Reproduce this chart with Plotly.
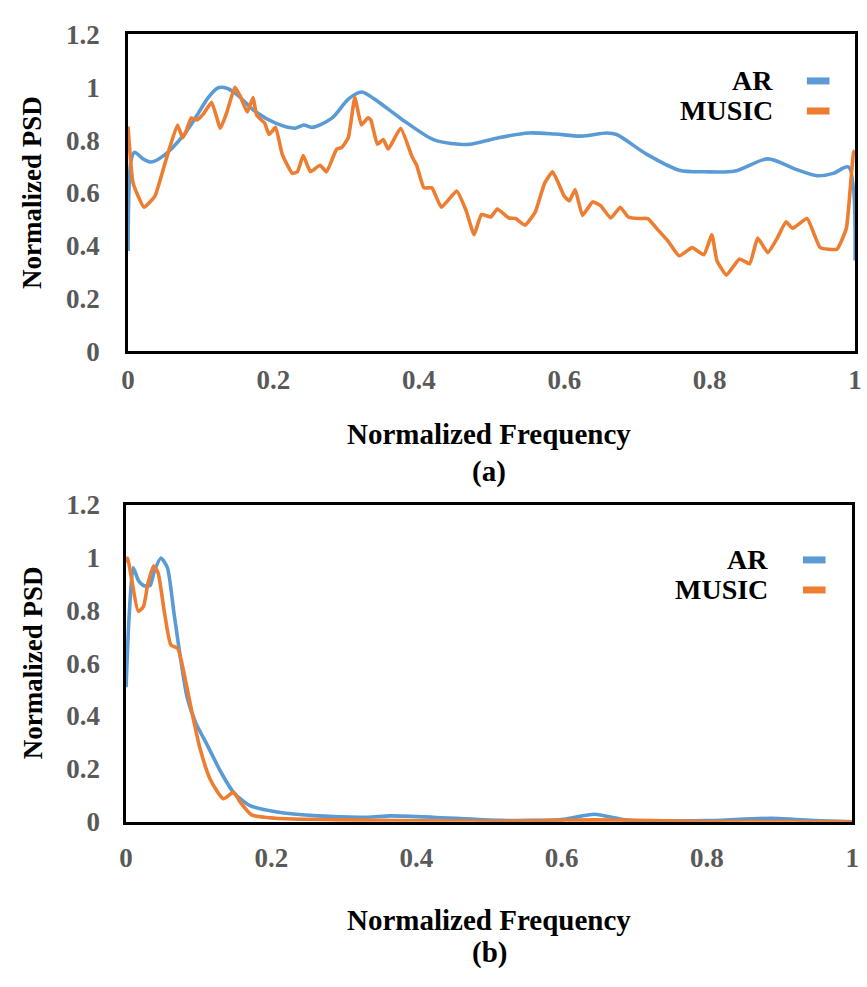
import plotly.graph_objects as go

# ---------------- data ----------------
tick_vals_x = [0, 0.2, 0.4, 0.6, 0.8, 1.0]
tick_text_x = ["0", "0.2", "0.4", "0.6", "0.8", "1"]
tick_vals_y = [0, 0.2, 0.4, 0.6, 0.8, 1.0, 1.2]
tick_text_y = ["0", "0.2", "0.4", "0.6", "0.8", "1", "1.2"]

# panel (a)
ar_a_x = [0, 0.004, 0.009, 0.02, 0.032, 0.049, 0.077, 0.095, 0.11, 0.124,
          0.137, 0.149, 0.176, 0.203, 0.23, 0.242, 0.253, 0.28, 0.303, 0.321,
          0.339, 0.375, 0.42, 0.456, 0.47, 0.51, 0.551, 0.587, 0.623, 0.659,
          0.672, 0.713, 0.758, 0.794, 0.835, 0.88, 0.916, 0.948, 0.97, 0.991,
          1.0]
ar_a_y = [0.38, 0.72, 0.754, 0.73, 0.717, 0.741, 0.821, 0.894, 0.96, 0.998,
          0.995, 0.974, 0.906, 0.864, 0.845, 0.857, 0.848, 0.882, 0.955, 0.982,
          0.955, 0.882, 0.802, 0.784, 0.784, 0.809, 0.827, 0.823, 0.815, 0.827,
          0.821, 0.747, 0.686, 0.68, 0.683, 0.729, 0.692, 0.665, 0.674, 0.698,
          0.344]

music_a_x = [0, 0.007, 0.022, 0.037, 0.052, 0.068, 0.075, 0.079, 0.087, 0.095,
             0.104, 0.115, 0.127, 0.136, 0.147, 0.154, 0.164, 0.172, 0.177, 0.188,
             0.194, 0.203, 0.212, 0.226, 0.233, 0.241, 0.251, 0.264, 0.273, 0.287,
             0.294, 0.303, 0.312, 0.321, 0.330, 0.334, 0.343, 0.351, 0.358, 0.375,
             0.391, 0.397, 0.407, 0.418, 0.431, 0.452, 0.465, 0.476, 0.486, 0.499,
             0.508, 0.524, 0.533, 0.546, 0.560, 0.573, 0.584, 0.600, 0.607, 0.615,
             0.625, 0.639, 0.650, 0.664, 0.677, 0.688, 0.702, 0.715, 0.727, 0.743,
             0.758, 0.776, 0.792, 0.803, 0.810, 0.823, 0.841, 0.855, 0.866, 0.880,
             0.893, 0.905, 0.914, 0.934, 0.952, 0.975, 0.988, 0.998, 1.0]
music_a_y = [0.851, 0.637, 0.546, 0.588, 0.723, 0.857, 0.809, 0.827, 0.884, 0.876,
             0.900, 0.943, 0.845, 0.906, 1.0, 0.968, 0.906, 0.961, 0.894, 0.864,
             0.821, 0.848, 0.747, 0.674, 0.680, 0.741, 0.680, 0.705, 0.680, 0.766,
             0.772, 0.809, 0.961, 0.857, 0.884, 0.876, 0.784, 0.802, 0.766, 0.845,
             0.735, 0.705, 0.619, 0.619, 0.546, 0.607, 0.533, 0.442, 0.518, 0.509,
             0.539, 0.505, 0.503, 0.478, 0.527, 0.637, 0.680, 0.588, 0.570, 0.613,
             0.515, 0.566, 0.552, 0.505, 0.546, 0.509, 0.503, 0.503, 0.466, 0.417,
             0.362, 0.393, 0.366, 0.442, 0.344, 0.289, 0.350, 0.332, 0.429, 0.374,
             0.429, 0.491, 0.466, 0.503, 0.393, 0.387, 0.466, 0.754, 0.76]

# panel (b)
ar_b_x = [0, 0.004, 0.010, 0.017, 0.024, 0.033, 0.039, 0.048, 0.057, 0.066,
          0.075, 0.084, 0.096, 0.112, 0.130, 0.148, 0.170, 0.206, 0.265, 0.333,
          0.364, 0.423, 0.514, 0.600, 0.645, 0.690, 0.800, 0.889, 0.95, 1.0]
ar_b_y = [0.509, 0.766, 0.961, 0.913, 0.894, 0.894, 0.949, 0.998, 0.961, 0.790,
          0.619, 0.472, 0.374, 0.289, 0.191, 0.111, 0.062, 0.038, 0.022, 0.017,
          0.022, 0.017, 0.005, 0.008, 0.028, 0.006, 0.004, 0.013, 0.004, 0.0]

music_b_x = [0, 0.002, 0.008, 0.017, 0.024, 0.030, 0.038, 0.044, 0.053, 0.062,
             0.071, 0.082, 0.091, 0.102, 0.116, 0.134, 0.148, 0.157, 0.173, 0.206,
             0.288, 0.514, 0.645, 0.8, 1.0]
music_b_y = [0.98, 0.998, 0.913, 0.796, 0.815, 0.900, 0.968, 0.943, 0.790, 0.668,
             0.656, 0.533, 0.411, 0.276, 0.160, 0.087, 0.111, 0.075, 0.026, 0.013,
             0.007, 0.002, 0.007, 0.001, 0.0]

series_names = ["AR", "MUSIC"]
x_title = "Normalized Frequency"
y_title = "Normalized PSD"
captions = ["(a)", "(b)"]

# ---------------- styling ----------------
W, H = 867, 987
BLUE = "#5B9BD5"
ORANGE = "#ED7D31"
FONT = "Liberation Serif"
TICK_GREY = "#595959"


def px_x(p):
    return p / W


def px_y(p):
    return 1 - p / H


fig = go.Figure()

fig.add_trace(go.Scatter(x=ar_a_x, y=ar_a_y, name=series_names[0], mode="lines",
                         line=dict(color=BLUE, width=3.6, shape="spline", smoothing=0.8),
                         xaxis="x", yaxis="y", showlegend=False))
fig.add_trace(go.Scatter(x=music_a_x, y=music_a_y, name=series_names[1], mode="lines",
                         line=dict(color=ORANGE, width=3.6, shape="spline", smoothing=0.4),
                         xaxis="x", yaxis="y", showlegend=False))
fig.add_trace(go.Scatter(x=ar_b_x, y=ar_b_y, name=series_names[0], mode="lines",
                         line=dict(color=BLUE, width=3.6, shape="spline", smoothing=0.6),
                         xaxis="x2", yaxis="y2", showlegend=False))
fig.add_trace(go.Scatter(x=music_b_x, y=music_b_y, name=series_names[1], mode="lines",
                         line=dict(color=ORANGE, width=3.6, shape="spline", smoothing=0.6),
                         xaxis="x2", yaxis="y2", showlegend=False))

tickfont = dict(family=FONT, size=27, color=TICK_GREY, weight="bold")
common_x = dict(range=[0, 1], tickvals=tick_vals_x, ticktext=tick_text_x,
                showline=True, linecolor="black", linewidth=2.5, mirror=True,
                showgrid=False, zeroline=False, ticks="", tickfont=tickfont)
common_y = dict(range=[0, 1.2], tickvals=tick_vals_y, ticktext=tick_text_y,
                showline=True, linecolor="black", linewidth=2.5, mirror=True,
                showgrid=False, zeroline=False, ticks="", tickfont=tickfont)

fig.update_layout(
    width=W, height=H, autosize=False,
    margin=dict(l=0, r=0, t=0, b=0),
    paper_bgcolor="white", plot_bgcolor="white",
    showlegend=False,
    xaxis=dict(domain=[px_x(123), px_x(862)], anchor="y", ticklabelstandoff=2, **common_x),
    yaxis=dict(domain=[px_y(347), px_y(20)], anchor="x", ticklabelstandoff=20, **common_y),
    xaxis2=dict(domain=[px_x(121), px_x(859)], anchor="y2", ticklabelstandoff=10, **common_x),
    yaxis2=dict(domain=[px_y(832), px_y(505)], anchor="x2", ticklabelstandoff=18, **common_y),
)

title_font = dict(family=FONT, size=29, color="black", weight="bold")
annotations = []
shapes = []
panels = [
    # x_title_y, caption_y, ytitle_y, legend AR y, legend MUSIC y, legend right edge, swatch x0, swatch x1
    (432, 471, 183, 68, 99, 781, 813, 836),
    (933, 967, 668, 562, 593, 776, 809, 832),
]
for i, (xt_y, cap_y, yt_y, ar_y, mu_y, leg_r, sw0, sw1) in enumerate(panels):
    annotations.append(dict(text=x_title, x=px_x(490), y=px_y(xt_y), xref="paper", yref="paper",
                            xanchor="center", yanchor="middle", showarrow=False, font=title_font))
    annotations.append(dict(text=captions[i], x=px_x(490), y=px_y(cap_y), xref="paper", yref="paper",
                            xanchor="center", yanchor="middle", showarrow=False, font=title_font))
    annotations.append(dict(text=y_title, x=px_x(26), y=px_y(yt_y), xref="paper", yref="paper",
                            xanchor="center", yanchor="middle", textangle=-90, showarrow=False,
                            font=dict(family=FONT, size=27, color="black", weight="bold")))
    for name, color, ly in [(series_names[0], BLUE, ar_y), (series_names[1], ORANGE, mu_y)]:
        annotations.append(dict(text=name, x=px_x(leg_r), y=px_y(ly), xref="paper", yref="paper",
                                xanchor="right", yanchor="middle", showarrow=False,
                                font=dict(family=FONT, size=28, color="black", weight="bold")))
        shapes.append(dict(type="line", xref="paper", yref="paper",
                           x0=px_x(sw0), x1=px_x(sw1), y0=px_y(ly), y1=px_y(ly),
                           line=dict(color=color, width=7)))

fig.update_layout(annotations=annotations, shapes=shapes)

fig.write_html("out.html", config={"displayModeBar": False})
